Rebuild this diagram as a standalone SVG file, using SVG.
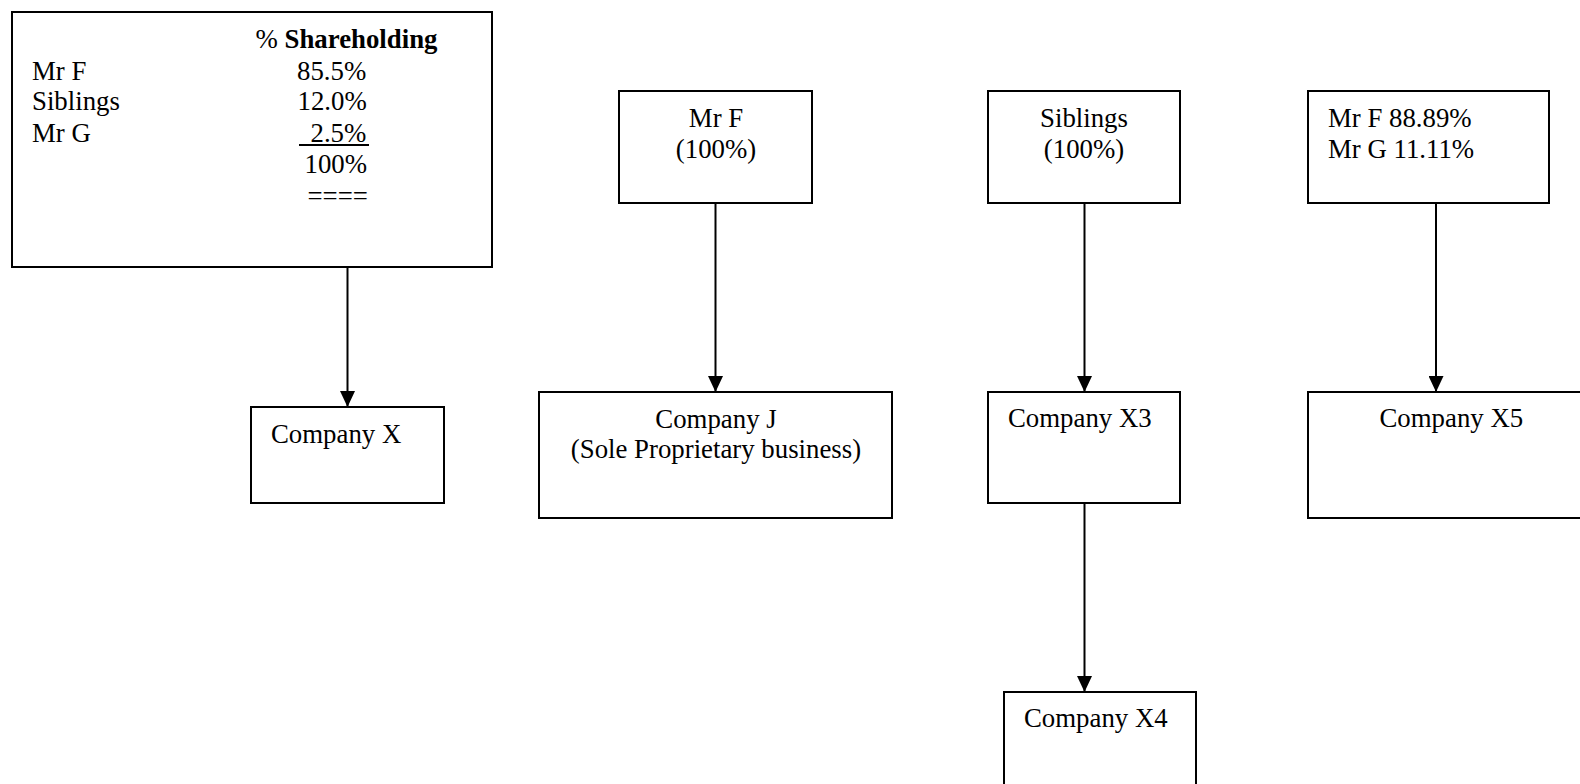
<svg xmlns="http://www.w3.org/2000/svg" width="1580" height="784" viewBox="0 0 1580 784">
<defs>
<style>
.box{fill:#fff;stroke:#000;stroke-width:2}
.t{font-family:"Liberation Serif","Times New Roman",serif;font-size:26.8px;fill:#000}
.c{text-anchor:middle}
.b{font-weight:bold}
.con{stroke:#000;stroke-width:2;fill:none;marker-end:url(#arr)}
</style>
<marker id="arr" markerUnits="userSpaceOnUse" markerWidth="16" markerHeight="15" refX="16" refY="7.5" orient="auto">
<path d="M0,0 L16,7.5 L0,15 Z" fill="#000"/>
</marker>
</defs>
<rect width="1580" height="784" fill="#fff"/>
<g id="connectors">
<line class="con" x1="347.5" y1="263" x2="347.5" y2="407"/>
<line class="con" x1="715.5" y1="201" x2="715.5" y2="392"/>
<line class="con" x1="1084.5" y1="201" x2="1084.5" y2="392"/>
<line class="con" x1="1084.5" y1="502" x2="1084.5" y2="692"/>
<line class="con" x1="1436" y1="201" x2="1436" y2="392"/>
</g>
<g id="shareholding">
<rect class="box" x="12" y="12" width="480" height="255"/>
<text class="t" x="255.5" y="48">% <tspan class="b">Shareholding</tspan></text>
<text class="t" x="32" y="80">Mr F</text>
<text class="t" x="32" y="110">Siblings</text>
<text class="t" x="32" y="141.5">Mr G</text>
<text class="t" x="297" y="80">85.5%</text>
<text class="t" x="297.5" y="110">12.0%</text>
<text class="t" x="310.5" y="141.5">2.5%</text>
<line x1="299" y1="145" x2="369" y2="145" stroke="#000" stroke-width="2"/>
<text class="t" x="304.5" y="173">100%</text>
<text class="t" x="307.5" y="205" fill="#444">====</text>
</g>
<g id="companyX">
<rect class="box" x="251" y="407" width="193" height="96"/>
<text class="t" x="271" y="442.5">Company X</text>
</g>
<g id="mrF">
<rect class="box" x="619" y="91" width="193" height="112"/>
<text class="t c" x="716" y="126.5">Mr F</text>
<text class="t c" x="716" y="158">(100%)</text>
</g>
<g id="companyJ">
<rect class="box" x="539" y="392" width="353" height="126"/>
<text class="t c" x="716" y="427.5">Company J</text>
<text class="t c" x="716" y="458">(Sole Proprietary business)</text>
</g>
<g id="siblings">
<rect class="box" x="988" y="91" width="192" height="112"/>
<text class="t c" x="1084" y="126.5">Siblings</text>
<text class="t c" x="1084" y="158">(100%)</text>
</g>
<g id="companyX3">
<rect class="box" x="988" y="392" width="192" height="111"/>
<text class="t" x="1008" y="426.5">Company X3</text>
</g>
<g id="companyX4">
<rect class="box" x="1004" y="692" width="192" height="120"/>
<text class="t" x="1024" y="726.5">Company X4</text>
</g>
<g id="mrFmrG">
<rect class="box" x="1308" y="91" width="241" height="112"/>
<text class="t" x="1328" y="126.5">Mr F 88.89%</text>
<text class="t" x="1328" y="157.5">Mr G 11.11%</text>
</g>
<g id="companyX5">
<rect class="box" x="1308" y="392" width="320" height="126"/>
<text class="t" x="1379.5" y="426.5">Company X5</text>
</g>
</svg>
